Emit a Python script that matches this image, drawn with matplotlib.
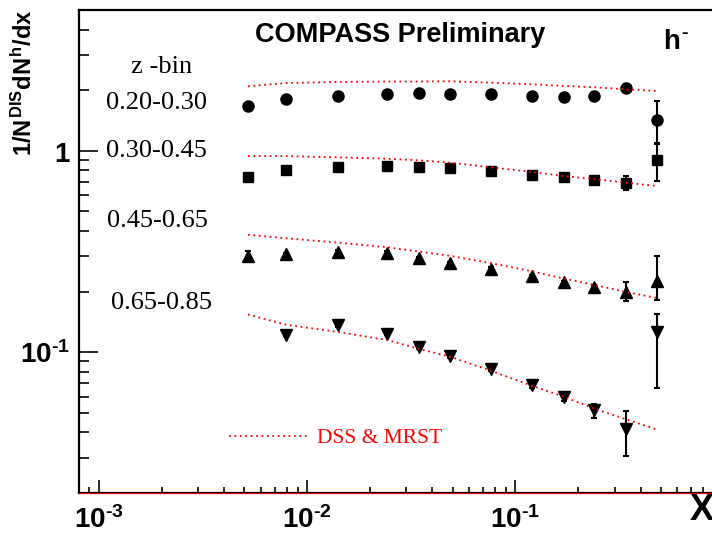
import matplotlib
matplotlib.use('Agg')
import matplotlib.pyplot as plt
from matplotlib.ticker import LogLocator, NullFormatter

plt.rcParams['mathtext.fontset'] = 'custom'
plt.rcParams['mathtext.rm'] = 'Liberation Sans:bold'
plt.rcParams['mathtext.it'] = 'Liberation Sans:bold'
plt.rcParams['mathtext.bf'] = 'Liberation Sans:bold'

# mean x of each bin
x_bins = [0.0052, 0.0079, 0.0141, 0.0242, 0.0344, 0.0485, 0.0761, 0.1207, 0.1715, 0.239, 0.3406, 0.4764]

# z 0.20-0.30 (circles)
z1_val = [1.67, 1.80, 1.87, 1.91, 1.93, 1.915, 1.91, 1.88, 1.85, 1.88, 2.06, 1.42]
z1_err = [0.02, 0.02, 0.02, 0.02, 0.02, 0.02, 0.02, 0.02, 0.02, 0.03, 0.085, 0.34]
# z 0.30-0.45 (squares)
z2_val = [0.744, 0.803, 0.833, 0.843, 0.828, 0.824, 0.796, 0.758, 0.739, 0.716, 0.694, 0.902]
z2_err = [0.01, 0.01, 0.01, 0.01, 0.01, 0.01, 0.01, 0.01, 0.01, 0.012, 0.053, 0.19]
# z 0.45-0.65 (triangles up)
z3_val = [0.301, 0.306, 0.316, 0.312, 0.293, 0.276, 0.260, 0.238, 0.222, 0.210, 0.200, 0.227]
z3_err_lo = [0.018, 0.005, 0.005, 0.005, 0.005, 0.005, 0.005, 0.005, 0.005, 0.006, 0.021, 0.045]
z3_err_hi = [0.018, 0.005, 0.005, 0.005, 0.005, 0.005, 0.005, 0.005, 0.005, 0.006, 0.024, 0.075]
# z 0.65-0.85 (triangles down), no first bin
z4_x = x_bins[1:]
z4_val = [0.1224, 0.136, 0.1238, 0.1059, 0.0959, 0.0828, 0.0686, 0.0601, 0.0514, 0.0418, 0.1256]
z4_err_lo = [0.002, 0.002, 0.002, 0.002, 0.002, 0.002, 0.002, 0.0028, 0.0042, 0.0112, 0.0595]
z4_err_hi = [0.002, 0.002, 0.002, 0.002, 0.002, 0.002, 0.002, 0.0028, 0.0042, 0.0095, 0.030]

# DSS & MRST expectation
th1 = [2.09, 2.17, 2.196, 2.206, 2.206, 2.213, 2.18, 2.138, 2.098, 2.067, 2.02, 1.982]
th2 = [0.941, 0.941, 0.928, 0.913, 0.897, 0.874, 0.828, 0.785, 0.749, 0.724, 0.694, 0.669]
th3 = [0.383, 0.368, 0.350, 0.332, 0.316, 0.301, 0.277, 0.252, 0.232, 0.216, 0.199, 0.186]
th4 = [0.154, 0.137, 0.126, 0.115, 0.104, 0.095, 0.081, 0.068, 0.060, 0.0525, 0.0464, 0.0414]

z_bin_labels = ['0.20-0.30', '0.30-0.45', '0.45-0.65', '0.65-0.85']

x_ticks = [1e-3, 1e-2, 1e-1]
x_tick_labels = [r'$10^{\text{-}3}$', r'$10^{\text{-}2}$', r'$10^{\text{-}1}$']
y_ticks = [0.1, 1]
y_tick_labels = [r'$10^{\text{-}1}$', r'$1$']


def draw_data(ax):
    err_kw = dict(color='black', ecolor='black', linestyle='none', elinewidth=1.5,
                  capsize=2, capthick=1.5, zorder=2)
    ax.errorbar(x_bins, z1_val, yerr=z1_err, marker='o', ms=8, **err_kw)
    ax.errorbar(x_bins, z2_val, yerr=z2_err, marker='s', ms=7.5, **err_kw)
    ax.errorbar(x_bins, z3_val, yerr=[z3_err_lo, z3_err_hi], marker='^', ms=8, **err_kw)
    ax.errorbar(z4_x, z4_val, yerr=[z4_err_lo, z4_err_hi], marker='v', ms=8, **err_kw)

    line_kw = dict(color='red', lw=1.3, linestyle=(0, (1, 2)), zorder=3)
    curve, = ax.plot(x_bins, th1, **line_kw)
    ax.plot(x_bins, th2, **line_kw)
    ax.plot(x_bins, th3, **line_kw)
    ax.plot(x_bins, th4, **line_kw)
    return curve


def main():
    fig = plt.figure(figsize=(7.12, 5.35), dpi=100)
    ax = fig.add_axes([0.1105, 0.0785, 0.8895, 0.9028])
    ax.set_xscale('log')
    ax.set_yscale('log')
    ax.set_xlim(8e-4, 0.88)
    ax.set_ylim(0.02, 5)

    curve = draw_data(ax)

    ax.spines['right'].set_visible(False)
    for s in ['left', 'bottom', 'top']:
        ax.spines[s].set_linewidth(1.6)
    ax.axhline(0.02, color='red', lw=0.7, zorder=3, clip_on=False)

    ax.set_xticks(x_ticks, x_tick_labels)
    ax.set_yticks(y_ticks, y_tick_labels)
    ax.xaxis.set_minor_locator(LogLocator(base=10, subs=range(2, 10), numticks=20))
    ax.yaxis.set_minor_locator(LogLocator(base=10, subs=range(2, 10), numticks=20))
    ax.xaxis.set_minor_formatter(NullFormatter())
    ax.yaxis.set_minor_formatter(NullFormatter())
    ax.tick_params(which='both', direction='in', top=False, right=False, width=1.2, labelsize=20)
    ax.tick_params(axis='y', which='major', length=13.5, pad=6)
    ax.tick_params(axis='y', which='minor', length=7)
    ax.tick_params(axis='x', which='major', length=9.4, pad=9.5)
    ax.tick_params(axis='x', which='minor', length=4.3)

    # axis titles
    fig.text(0.034, 0.845, r'$1/N^{DIS}dN^{h}/dx$', rotation=90, ha='center', va='center', fontsize=17)
    fig.text(0.968, 0.045, 'X', ha='left', va='center', fontsize=26, fontweight='bold',
             family='Liberation Sans')

    fig.text(0.358, 0.934, 'COMPASS Preliminary', fontsize=19.5, fontweight='bold',
             family='Liberation Sans', va='center')
    fig.text(0.931, 0.908, r'$h^{\text{-}}$', fontsize=20, va='baseline')

    serif = dict(family='Liberation Serif', fontsize=19, va='baseline')
    fig.text(0.184, 1 - 73 / 535, 'z -bin', **serif)
    z_pos = [(106, 109), (106, 157), (107, 227), (111, 309)]
    for (px, py), lab in zip(z_pos, z_bin_labels):
        fig.text(px / 712, 1 - py / 535, lab, **serif)

    ax.legend([curve], ['DSS & MRST'], loc='center left', bbox_to_anchor=(229 / 712, 1 - 438 / 535),
              bbox_transform=fig.transFigure, frameon=False, handlelength=3.7, handletextpad=0.4,
              borderpad=0, borderaxespad=0, labelcolor='red',
              prop={'family': 'Liberation Serif', 'size': 15.5})

    fig.savefig('out.png', dpi=100)


if __name__ == '__main__':
    main()
